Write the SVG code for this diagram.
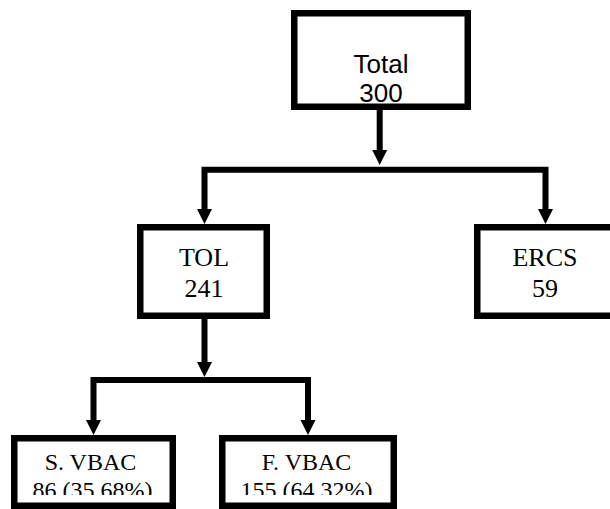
<svg xmlns="http://www.w3.org/2000/svg" width="610" height="509" viewBox="0 0 610 509">
  <style>
    .box { fill: #fff; stroke: #000; stroke-width: 6.5; stroke-linejoin: miter; }
    .conn { fill: none; stroke: #000; stroke-width: 6; stroke-linejoin: miter; stroke-linecap: butt; }
    .sans { font-family: "Liberation Sans", Arial, sans-serif; font-size: 26px; fill: #000; text-anchor: middle; }
    .serif { font-family: "Liberation Serif", "Times New Roman", serif; font-size: 26px; fill: #000; text-anchor: middle; }
    .small { font-size: 24px; }
  </style>
  <defs>
    <marker id="head" markerUnits="userSpaceOnUse" markerWidth="16" markerHeight="16" refX="0" refY="7.5" orient="auto-start-reverse" overflow="visible">
      <path d="M0,0 L15,7.5 L0,15 Z" fill="#000"/>
    </marker>
    <clipPath id="clipS"><rect x="17" y="441" width="153" height="54"/></clipPath>
    <clipPath id="clipF"><rect x="225" y="441" width="166" height="54"/></clipPath>
  </defs>

  <g id="connectors">
    <path class="conn" d="M379.7,110 V150" marker-end="url(#head)"/>
    <path class="conn" d="M204.5,209 V169.7 H545.5 V209" marker-start="url(#head)" marker-end="url(#head)"/>
    <path class="conn" d="M204.5,319 V362" marker-end="url(#head)"/>
    <path class="conn" d="M93.5,420 V380 H308 V420" marker-start="url(#head)" marker-end="url(#head)"/>
  </g>

  <g id="total">
    <rect class="box" x="294.25" y="13.25" width="173.5" height="93.5"/>
    <text class="sans" x="381" y="73">Total</text>
    <text class="sans" x="381" y="102">300</text>
  </g>

  <g id="tol">
    <rect class="box" x="140.25" y="227.25" width="126.5" height="88.5"/>
    <text class="serif" x="204" y="265.5">TOL</text>
    <text class="serif" x="204" y="297">241</text>
  </g>

  <g id="ercs">
    <rect class="box" x="477.25" y="227.25" width="140" height="88.5"/>
    <text class="serif" x="545" y="265.5">ERCS</text>
    <text class="serif" x="545" y="297">59</text>
  </g>

  <g id="s-vbac">
    <rect class="box" x="14.25" y="438.25" width="158.5" height="67.5"/>
    <g clip-path="url(#clipS)">
      <text class="serif small" x="90.5" y="470">S. VBAC</text>
      <text class="serif small" x="92.5" y="498">86 (35.68%)</text>
    </g>
  </g>

  <g id="f-vbac">
    <rect class="box" x="222.25" y="438.25" width="171.5" height="67.5"/>
    <g clip-path="url(#clipF)">
      <text class="serif small" x="306.5" y="470">F. VBAC</text>
      <text class="serif small" x="306.5" y="498">155 (64.32%)</text>
    </g>
  </g>
</svg>
